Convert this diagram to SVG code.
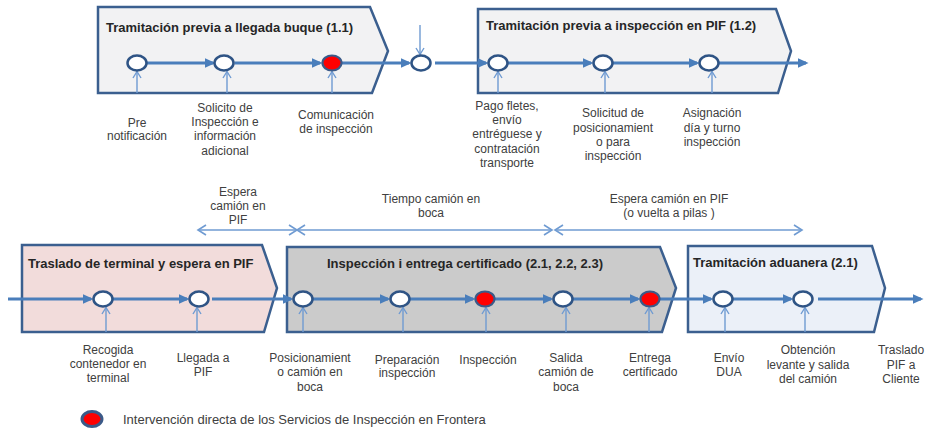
<svg xmlns="http://www.w3.org/2000/svg" width="926" height="428" viewBox="0 0 926 428">
<style>
.stage{stroke:#3b5f8f;stroke-width:2.5;stroke-linejoin:miter}
.title{font-family:"Liberation Sans",Arial,sans-serif;font-weight:bold;font-size:13px;fill:#262626}
.lbl{font-family:"Liberation Sans",Arial,sans-serif;font-size:12px;fill:#404040;text-anchor:middle}
.leg{font-family:"Liberation Sans",Arial,sans-serif;font-size:13px;fill:#404040}
.ev{fill:#ffffff;stroke:#2f5485;stroke-width:2.5}
.evr{fill:#ff0000;stroke:#3b5a88;stroke-width:2.2}
.main{stroke:#4a7ebb;stroke-width:3.2;fill:none;marker-end:url(#ah)}
.thin{stroke:#6f9bd2;stroke-width:1.4;fill:none;marker-end:url(#oh)}
.dim{stroke:#6f9bd2;stroke-width:1.4;fill:none;marker-start:url(#dh);marker-end:url(#dh)}
</style>
<defs>
<marker id="ah" viewBox="0 0 11 11" markerWidth="11" markerHeight="11" refX="8.5" refY="5.5" orient="auto" markerUnits="userSpaceOnUse"><path d="M0,0.5 L11,5.5 L0,10.5z" fill="#4a7ebb"/></marker>
<marker id="oh" viewBox="0 0 10 10" markerWidth="10" markerHeight="10" refX="8" refY="5" orient="auto" markerUnits="userSpaceOnUse"><path d="M1.5,1 L8,5 L1.5,9" fill="none" stroke="#6f9bd2" stroke-width="1.4"/></marker>
<marker id="dh" viewBox="0 0 12 12" markerWidth="12" markerHeight="12" refX="10" refY="6" orient="auto-start-reverse" markerUnits="userSpaceOnUse"><path d="M2,1 L10,6 L2,11" fill="none" stroke="#6f9bd2" stroke-width="1.6"/></marker>
</defs>
<rect width="926" height="428" fill="#ffffff"/>

<g id="stage-1-1"><polygon class="stage" fill="#f2f2f3" points="98,7 370,7 388,51 372,93 98,93"/><text class="title" x="106" y="31.5">Tramitación previa a llegada buque (1.1)</text></g>
<g id="stage-1-2"><polygon class="stage" fill="#f2f2f3" points="478,9 776,9 791,51 778,93 478,93"/><text class="title" x="486" y="30">Tramitación previa a inspección en PIF (1.2)</text></g>
<g id="stage-traslado"><polygon class="stage" fill="#f2dcdb" points="22,245 262,245 277,288 264,332 22,332"/><text class="title" x="28" y="267.5">Traslado de terminal y espera en PIF</text></g>
<g id="stage-2"><polygon class="stage" fill="#cbcbcb" points="287,247 660,247 676,288 662,332 287,332"/><text class="title" x="327" y="267.5">Inspección i entrega certificado (2.1, 2.2, 2.3)</text></g>
<g id="stage-aduana"><polygon class="stage" fill="#ebf0f8" points="688,246 872,246 885,288 874,332 688,332"/><text class="title" x="693" y="266.5">Tramitación aduanera (2.1)</text></g>

<g id="connectors">
<path class="main" d="M146.5,63 H213"/>
<path class="main" d="M234.5,63 H320"/>
<path class="main" d="M342,63 H409"/>
<path class="main" d="M435,63 H486"/>
<path class="main" d="M508,63 H591"/>
<path class="main" d="M613,63 H697"/>
<path class="main" d="M719,63 H806"/>
<path class="main" d="M8,299 H91"/>
<path class="main" d="M113,299 H187"/>
<path class="main" d="M212,299 H291"/>
<path class="main" d="M313,299 H388"/>
<path class="main" d="M410,299 H473"/>
<path class="main" d="M495,299 H551"/>
<path class="main" d="M573,299 H638"/>
<path class="main" d="M660,299 H711"/>
<path class="main" d="M733,299 H791"/>
<path class="main" d="M818,299 H921"/>
<path class="thin" d="M137,93 V71.5"/>
<path class="thin" d="M227,93 V71.5"/>
<path class="thin" d="M332,93 V71.5"/>
<path class="thin" d="M420,25 V54.5"/>
<path class="thin" d="M498,93 V71.5"/>
<path class="thin" d="M605,93 V71.5"/>
<path class="thin" d="M712,93 V71.5"/>
<path class="thin" d="M106,332 V307.5"/>
<path class="thin" d="M197,332 V307.5"/>
<path class="thin" d="M303,332 V307.5"/>
<path class="thin" d="M403,332 V307.5"/>
<path class="thin" d="M486,332 V307.5"/>
<path class="thin" d="M566,332 V307.5"/>
<path class="thin" d="M649,332 V307.5"/>
<path class="thin" d="M725,332 V307.5"/>
<path class="thin" d="M805,332 V307.5"/>
</g>

<g id="durations">
<path class="dim" d="M198,230 H297"/>
<path class="dim" d="M297,230 H552"/>
<path class="dim" d="M555,230 H802"/>
<text class="lbl" x="238" y="196">Espera</text>
<text class="lbl" x="238" y="210">camión  en</text>
<text class="lbl" x="238" y="224">PIF</text>
<text class="lbl" x="431" y="203">Tiempo camión en</text>
<text class="lbl" x="431" y="217">boca</text>
<text class="lbl" x="669" y="203">Espera camión en PIF</text>
<text class="lbl" x="669" y="217">(o vuelta a pilas )</text>
</g>

<g id="ev-prenotificacion"><ellipse class="ev" cx="137" cy="63" rx="9.5" ry="7.5"/><text class="lbl" x="137" y="127">Pre</text><text class="lbl" x="137" y="140">notificación</text></g>
<g id="ev-solicito"><ellipse class="ev" cx="224" cy="63" rx="9.5" ry="7.5"/><text class="lbl" x="225" y="112">Solicito de</text><text class="lbl" x="225" y="126">Inspección e</text><text class="lbl" x="225" y="140">información</text><text class="lbl" x="225" y="155">adicional</text></g>
<g id="ev-comunicacion"><ellipse class="evr" cx="332" cy="63" rx="9.5" ry="7.5"/><text class="lbl" x="336" y="119">Comunicación</text><text class="lbl" x="336" y="133">de inspección</text></g>
<g id="ev-llegada-buque"><ellipse class="ev" cx="421" cy="63" rx="9.5" ry="7.5"/></g>
<g id="ev-pago"><ellipse class="ev" cx="498" cy="63" rx="9.5" ry="7.5"/><text class="lbl" x="507" y="110">Pago fletes,</text><text class="lbl" x="507" y="124">envío</text><text class="lbl" x="507" y="138">entréguese  y</text><text class="lbl" x="507" y="153">contratación</text><text class="lbl" x="507" y="167">transporte</text></g>
<g id="ev-solicitud-pos"><ellipse class="ev" cx="603" cy="63" rx="9.5" ry="7.5"/><text class="lbl" x="613" y="117">Solicitud de</text><text class="lbl" x="613" y="132">posicionamient</text><text class="lbl" x="613" y="146">o para</text><text class="lbl" x="613" y="160">inspección</text></g>
<g id="ev-asignacion"><ellipse class="ev" cx="709" cy="63" rx="9.5" ry="7.5"/><text class="lbl" x="712" y="117">Asignación</text><text class="lbl" x="712" y="132">día y turno</text><text class="lbl" x="712" y="146">inspección</text></g>

<g id="ev-recogida"><ellipse class="ev" cx="103" cy="299" rx="9.5" ry="7.5"/><text class="lbl" x="108" y="354">Recogida</text><text class="lbl" x="108" y="368">contenedor en</text><text class="lbl" x="108" y="382">terminal</text></g>
<g id="ev-llegada-pif"><ellipse class="ev" cx="199" cy="299" rx="9.5" ry="7.5"/><text class="lbl" x="203" y="362">Llegada a</text><text class="lbl" x="203" y="376">PIF</text></g>
<g id="ev-posicionamiento"><ellipse class="ev" cx="303" cy="299" rx="9.5" ry="7.5"/><text class="lbl" x="310" y="362">Posicionamient</text><text class="lbl" x="310" y="376">o camión en</text><text class="lbl" x="310" y="391">boca</text></g>
<g id="ev-preparacion"><ellipse class="ev" cx="400" cy="299" rx="9.5" ry="7.5"/><text class="lbl" x="407" y="364">Preparación</text><text class="lbl" x="407" y="377">inspección</text></g>
<g id="ev-inspeccion"><ellipse class="evr" cx="485" cy="299" rx="9.5" ry="7.5"/><text class="lbl" x="488" y="364">Inspección</text></g>
<g id="ev-salida"><ellipse class="ev" cx="563" cy="299" rx="9.5" ry="7.5"/><text class="lbl" x="566" y="362">Salida</text><text class="lbl" x="566" y="376">camión de</text><text class="lbl" x="566" y="391">boca</text></g>
<g id="ev-entrega"><ellipse class="evr" cx="650" cy="299" rx="9.5" ry="7.5"/><text class="lbl" x="650" y="362">Entrega</text><text class="lbl" x="650" y="376">certificado</text></g>
<g id="ev-dua"><ellipse class="ev" cx="723" cy="299" rx="9.5" ry="7.5"/><text class="lbl" x="729" y="362">Envío</text><text class="lbl" x="729" y="376">DUA</text></g>
<g id="ev-levante"><ellipse class="ev" cx="803" cy="299" rx="9.5" ry="7.5"/><text class="lbl" x="808" y="354">Obtención</text><text class="lbl" x="808" y="369">levante y salida</text><text class="lbl" x="808" y="383">del camión</text></g>
<g id="ev-traslado-cliente"><text class="lbl" x="901" y="354">Traslado</text><text class="lbl" x="901" y="369">PIF a</text><text class="lbl" x="901" y="383">Cliente</text></g>

<g id="legend"><ellipse cx="92" cy="419" rx="10" ry="7.5" fill="#ff0000" stroke="#3b5a88" stroke-width="3"/><text class="leg" x="123" y="423.5">Intervención directa de los Servicios de Inspección en Frontera</text></g>
</svg>
